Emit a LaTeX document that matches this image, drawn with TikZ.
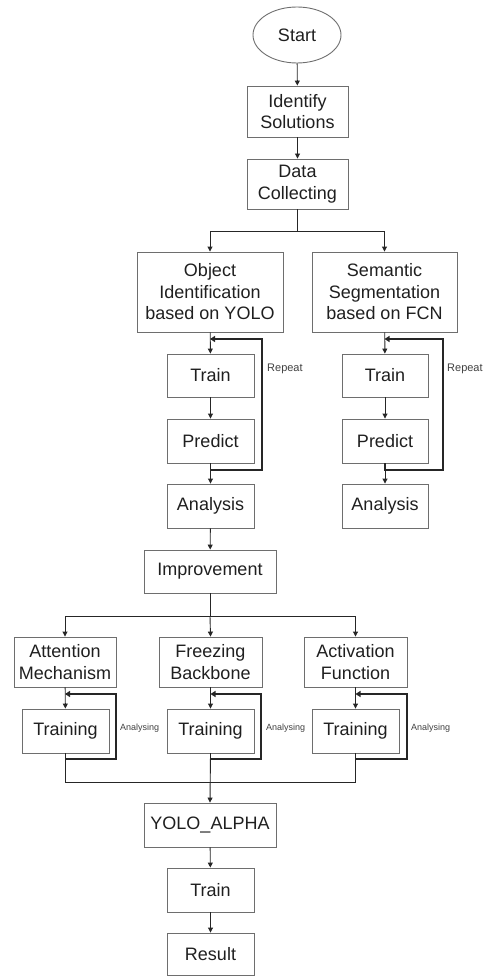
\documentclass[tikz,border=0pt]{standalone}
\usepackage{fontspec}
\setmainfont{Liberation Sans}
\usetikzlibrary{arrows.meta,shapes.geometric}
\definecolor{boxline}{HTML}{6E6E6E}
\definecolor{inkline}{HTML}{262626}
\begin{document}
\begin{tikzpicture}[x=1pt,y=-1pt,
  box/.style={draw=boxline,line width=0.9pt,rectangle,align=center,inner sep=0pt,
    text=black!88,font=\fontsize{18}{21.5}\selectfont},
  oval/.style={draw=boxline,line width=0.9pt,ellipse,inner sep=0pt,
    text=black!88,font=\fontsize{18}{21.5}\selectfont},
  conn/.style={draw=inkline,line width=0.9pt},
  arr/.style={conn,-{Triangle[width=5pt,length=5pt]}},
  loopline/.style={draw=inkline,line width=1.8pt,-{Triangle[width=6pt,length=5pt]}},
  smalltxt/.style={anchor=west,inner sep=0pt,text=black!75},
]
\useasboundingbox (0,0) rectangle (483,976);

% top chain
\node[oval,minimum width=88pt,minimum height=56pt] (start) at (297,35) {Start};
\node[box,minimum width=101pt,minimum height=51pt] (ident) at (297.5,111.5) {Identify\\Solutions};
\node[box,minimum width=101pt,minimum height=50pt] (data) at (297.5,184) {Data\\Collecting};

% two branches
\node[box,minimum width=146pt,minimum height=80pt] (obj) at (210,292) {Object\\Identification\\based on YOLO};
\node[box,minimum width=145pt,minimum height=80pt] (sem) at (384.5,292) {Semantic\\Segmentation\\based on FCN};

\node[box,minimum width=87pt,minimum height=43pt] (trainA) at (210.5,375.5) {Train};
\node[box,minimum width=87pt,minimum height=44pt] (predA) at (210.5,441) {Predict};
\node[box,minimum width=87pt,minimum height=44pt] (analA) at (210.5,506) {Analysis};

\node[box,minimum width=86pt,minimum height=43pt] (trainB) at (385,375.5) {Train};
\node[box,minimum width=86pt,minimum height=44pt] (predB) at (385,441) {Predict};
\node[box,minimum width=86pt,minimum height=44pt] (analB) at (385,506) {Analysis};

\node[box,minimum width=132pt,minimum height=43pt] (impr) at (210,571.5) {Improvement};

% three improvements
\node[box,minimum width=102pt,minimum height=50pt] (att) at (65,662) {Attention\\Mechanism};
\node[box,minimum width=103pt,minimum height=50pt] (frz) at (210.5,662) {Freezing\\Backbone};
\node[box,minimum width=103pt,minimum height=50pt] (actf) at (355.5,662) {Activation\\Function};

\node[box,minimum width=87pt,minimum height=44pt] (trA) at (65.5,731) {Training};
\node[box,minimum width=87pt,minimum height=44pt] (trF) at (210.5,731) {Training};
\node[box,minimum width=87pt,minimum height=44pt] (trC) at (355.5,731) {Training};

\node[box,minimum width=132pt,minimum height=44pt] (yolo) at (210,825) {YOLO\_ALPHA};
\node[box,minimum width=87pt,minimum height=44pt] (trainY) at (210.5,890) {Train};
\node[box,minimum width=87pt,minimum height=42pt] (result) at (210.5,954) {Result};

% labels on the loops
\node[smalltxt,font=\fontsize{11}{13}\selectfont] (repA) at (267,369) {Repeat};
\node[smalltxt,font=\fontsize{11}{13}\selectfont] (repB) at (447,369) {Repeat};
\node[smalltxt,font=\fontsize{9}{11}\selectfont] (anA) at (120,728) {Analysing};
\node[smalltxt,font=\fontsize{9}{11}\selectfont] (anF) at (266,728) {Analysing};
\node[smalltxt,font=\fontsize{9}{11}\selectfont] (anC) at (411,728) {Analysing};

% helper coordinates
\coordinate (split1) at (297.5,231);
\coordinate (split2) at (210,616);
\coordinate (join) at (210,782);
\coordinate (lAb) at (262,470);  \coordinate (lAt) at (262,339);
\coordinate (lBb) at (443,470);  \coordinate (lBt) at (443,339);
\coordinate (lab) at (116,759);  \coordinate (lat) at (116,694);
\coordinate (lfb) at (261,759);  \coordinate (lft) at (261,694);
\coordinate (lcb) at (407,759);  \coordinate (lct) at (407,694);

% main flow
\draw[arr] (start) -- (ident);
\draw[arr] (ident) -- (data);
\draw[conn] (data.south) -- (split1);
\draw[arr] (split1) -| (obj.north);
\draw[arr] (split1) -| (sem.north);

\draw[arr] (obj) -- (trainA);
\draw[arr] (trainA) -- (predA);
\draw[arr] (predA) -- (analA);
\draw[arr] (sem) -- (trainB);
\draw[arr] (trainB) -- (predB);
\draw[arr] (predB) -- (analB);

\draw[arr] (analA) -- (impr);
\draw[conn] (impr.south) -- (split2);
\draw[arr] (split2) -| (att.north);
\draw[arr] (split2) -- (frz.north);
\draw[arr] (split2) -| (actf.north);

\draw[arr] (att) -- (trA);
\draw[arr] (frz) -- (trF);
\draw[arr] (actf) -- (trC);

\draw[conn] (trA.south) |- (join);
\draw[conn] (trC.south) |- (join);
\draw[arr] (trF.south) -- (yolo.north);
\draw[arr] (yolo) -- (trainY);
\draw[arr] (trainY) -- (result);

% feedback loops
\draw[loopline] (predA.south) |- (lAb) -- (lAt) -- (obj.south |- lAt);
\draw[loopline] (predB.south) |- (lBb) -- (lBt) -- (sem.south |- lBt);
\draw[loopline] (trA.south) |- (lab) -- (lat) -- (att.south |- lat);
\draw[loopline] (trF.south) |- (lfb) -- (lft) -- (frz.south |- lft);
\draw[loopline] (trC.south) |- (lcb) -- (lct) -- (actf.south |- lct);
\end{tikzpicture}
\end{document}
